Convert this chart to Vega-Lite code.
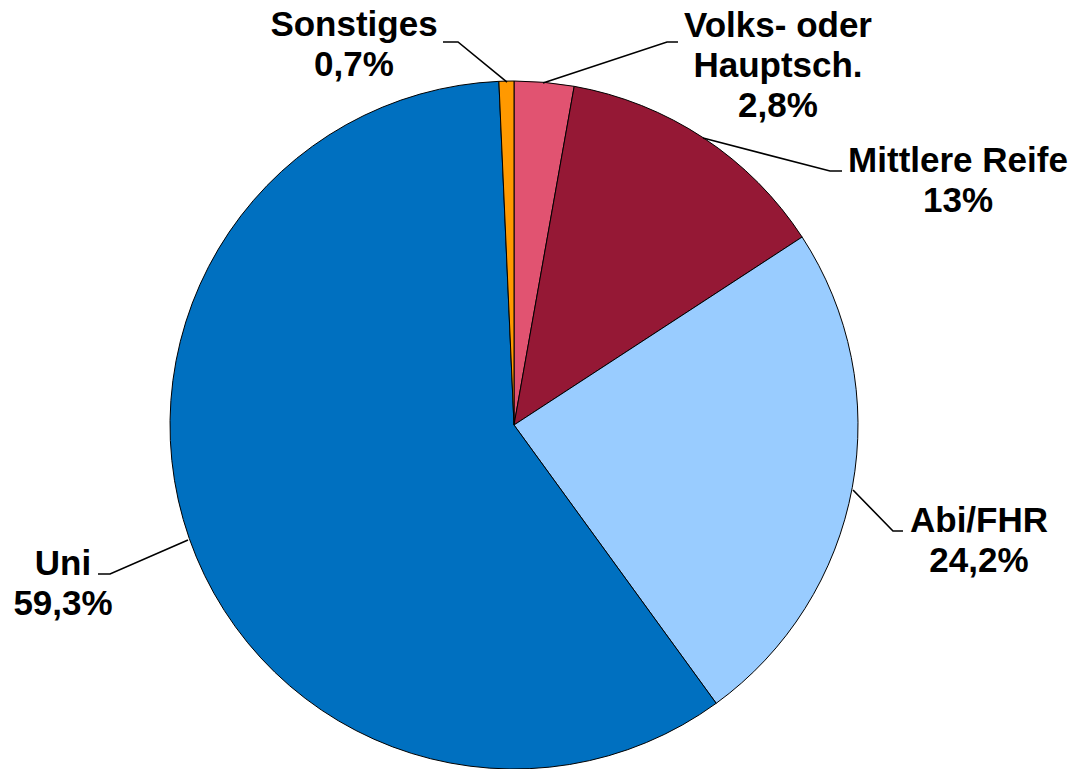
{
  "$schema": "https://vega.github.io/schema/vega-lite/v6.json",
  "width": 1074,
  "height": 769,
  "autosize": {"type": "none"},
  "padding": 0,
  "background": "white",
  "config": {"view": {"stroke": null}},
  "datasets": {
    "slices": [
      {"i": 1, "label": "Volks- oder Hauptsch.", "share": 2.8},
      {"i": 2, "label": "Mittlere Reife", "share": 13.0},
      {"i": 3, "label": "Abi/FHR", "share": 24.2},
      {"i": 4, "label": "Uni", "share": 59.3},
      {"i": 5, "label": "Sonstiges", "share": 0.7}
    ],
    "labels": [
      {"text": "Sonstiges\n0,7%", "x": -0.4651, "y": 1.1308},
      {"text": "Volks- oder\nHauptsch.\n2,8%", "x": 0.7674, "y": 1.1279},
      {"text": "Mittlere Reife\n13%", "x": 1.2907, "y": 0.7355},
      {"text": "Abi/FHR\n24,2%", "x": 1.3517, "y": -0.311},
      {"text": "Uni\n59,3%", "x": -1.311, "y": -0.436}
    ],
    "leaders": [
      {"label": "Sonstiges", "k": 1, "x": -0.2064, "y": 1.1134},
      {"label": "Sonstiges", "k": 2, "x": -0.1628, "y": 1.1134},
      {"label": "Sonstiges", "k": 3, "x": -0.0203, "y": 0.9971},
      {"label": "Volks", "k": 1, "x": 0.0843, "y": 0.9942},
      {"label": "Volks", "k": 2, "x": 0.4448, "y": 1.1134},
      {"label": "Volks", "k": 3, "x": 0.4767, "y": 1.1134},
      {"label": "Mittlere", "k": 1, "x": 0.5494, "y": 0.8343},
      {"label": "Mittlere", "k": 2, "x": 0.9186, "y": 0.7384},
      {"label": "Mittlere", "k": 3, "x": 0.9535, "y": 0.7384},
      {"label": "Abi", "k": 1, "x": 0.9855, "y": -0.189},
      {"label": "Abi", "k": 2, "x": 1.1017, "y": -0.3081},
      {"label": "Abi", "k": 3, "x": 1.1308, "y": -0.3081},
      {"label": "Uni", "k": 1, "x": -0.9477, "y": -0.3343},
      {"label": "Uni", "k": 2, "x": -1.1744, "y": -0.4331},
      {"label": "Uni", "k": 3, "x": -1.2093, "y": -0.4331}
    ]
  },
  "layer": [
    {
      "data": {"name": "slices"},
      "mark": {"type": "arc", "outerRadius": 344, "stroke": "black", "strokeWidth": 1},
      "encoding": {
        "x": {"datum": 0, "type": "quantitative", "scale": {"domain": [-1.4942, 1.6279], "nice": false, "zero": false}, "axis": null},
        "y": {"datum": 0, "type": "quantitative", "scale": {"domain": [-1.0, 1.2355], "nice": false, "zero": false}, "axis": null},
        "theta": {"field": "share", "type": "quantitative", "stack": true},
        "order": {"field": "i", "type": "quantitative"},
        "color": {
          "field": "label",
          "type": "nominal",
          "legend": null,
          "scale": {
            "domain": ["Volks- oder Hauptsch.", "Mittlere Reife", "Abi/FHR", "Uni", "Sonstiges"],
            "range": ["#E15371", "#951835", "#99CCFF", "#0070C0", "#FF9900"]
          }
        }
      }
    },
    {
      "data": {"name": "leaders"},
      "mark": {"type": "line", "color": "black", "strokeWidth": 1.6},
      "encoding": {
        "x": {"field": "x", "type": "quantitative"},
        "y": {"field": "y", "type": "quantitative"},
        "detail": {"field": "label"},
        "order": {"field": "k", "type": "quantitative"}
      }
    },
    {
      "data": {"name": "labels"},
      "mark": {"type": "text", "font": "Liberation Sans", "fontWeight": "bold", "fontSize": 35, "align": "center", "baseline": "alphabetic", "lineBreak": "\n", "lineHeight": 40, "color": "black"},
      "encoding": {
        "x": {"field": "x", "type": "quantitative"},
        "y": {"field": "y", "type": "quantitative"},
        "text": {"field": "text"}
      }
    }
  ]
}
